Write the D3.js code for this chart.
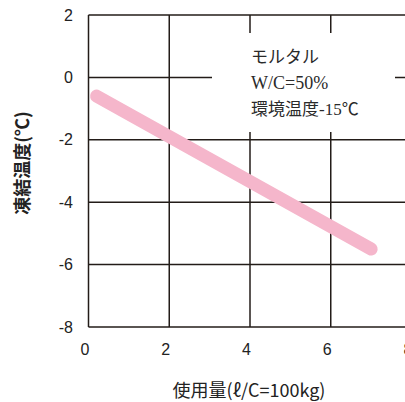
<!DOCTYPE html>
<html>
<head>
<meta charset="utf-8">
<script src="https://cdn.jsdelivr.net/npm/d3@7"></script>
<style>
  html, body { margin: 0; padding: 0; background: #ffffff; }
  svg { display: block; }
</style>
</head>
<body>
<svg id="chart" width="405" height="402"></svg>
<script>
// Freezing temperature vs. dosage
const xTicks = [0, 2, 4, 6, 8];
const yTicks = [2, 0, -2, -4, -6, -8];
const dosage = [0.2, 7.0];
const freezeTemp = [-0.6, -5.5];
const noteLines = ["モルタル", "W/C=50%", "環境温度-15℃"];
const xTitle = "使用量(ℓ/C=100kg)";
const yTitle = "凍結温度(℃)";

const svg = d3.select("#chart");
const x = d3.scaleLinear().domain([0, 8]).range([88.5, 411.5]);
const y = d3.scaleLinear().domain([-8, 2]).range([327, 15]);

const ink = "#231c18";
const sansFont = "'Liberation Sans', Arial, 'Noto Sans CJK JP', sans-serif";

// grid
const grid = svg.append("g").attr("stroke", ink).attr("stroke-width", 1.5);
grid.selectAll("line.v").data(xTicks).join("line")
  .attr("x1", d => x(d)).attr("x2", d => x(d))
  .attr("y1", y(2)).attr("y2", y(-8));
grid.selectAll("line.h").data(yTicks).join("line")
  .attr("x1", x(0)).attr("x2", x(8))
  .attr("y1", d => y(d)).attr("y2", d => y(d));

// note box masks the grid behind it
svg.append("rect")
  .attr("x", 212).attr("y", 33).attr("width", 183).attr("height", 99)
  .attr("fill", "#ffffff");

// trend line
const pts = dosage.map((d, i) => [d, freezeTemp[i]]);
svg.append("path")
  .datum(pts)
  .attr("d", d3.line().x(d => x(d[0])).y(d => y(d[1])))
  .attr("fill", "none")
  .attr("stroke", "#f5b6cb")
  .attr("stroke-width", 13)
  .attr("stroke-linecap", "round");

// y tick labels
svg.append("g").selectAll("text").data(yTicks).join("text")
  .attr("x", 73).attr("y", d => y(d))
  .attr("dy", "0.35em")
  .attr("text-anchor", "end")
  .attr("font-family", sansFont)
  .attr("font-size", 16)
  .attr("fill", "#222")
  .text(d => d);

// x tick labels
svg.append("g").selectAll("text").data(xTicks).join("text")
  .attr("x", d => x(d) - 3.5).attr("y", y(-8) + 22)
  .attr("dy", "0.35em")
  .attr("text-anchor", "middle")
  .attr("font-family", sansFont)
  .attr("font-size", 16)
  .attr("fill", "#222")
  .text(d => d);

// axis titles
svg.append("text")
  .attr("x", 249).attr("y", 397)
  .attr("text-anchor", "middle")
  .attr("font-family", "'Noto Sans CJK JP', sans-serif")
  .attr("font-size", 18)
  .attr("fill", "#222")
  .text(xTitle);

svg.append("text")
  .attr("transform", "translate(29,163) rotate(-90)")
  .attr("text-anchor", "middle")
  .attr("font-family", "'Noto Sans CJK JP', sans-serif")
  .attr("font-weight", "bold")
  .attr("font-size", 18)
  .attr("fill", "#222")
  .text(yTitle);

// note text
svg.append("g").selectAll("text").data(noteLines).join("text")
  .attr("x", 251)
  .attr("y", (d, i) => 63 + i * 26)
  .attr("font-family", "'Liberation Serif', 'Noto Sans CJK JP', serif")
  .attr("font-size", (d, i) => i === 1 ? 18 : 17)
  .attr("fill", "#2a2a2a")
  .text(d => d);
</script>
</body>
</html>
